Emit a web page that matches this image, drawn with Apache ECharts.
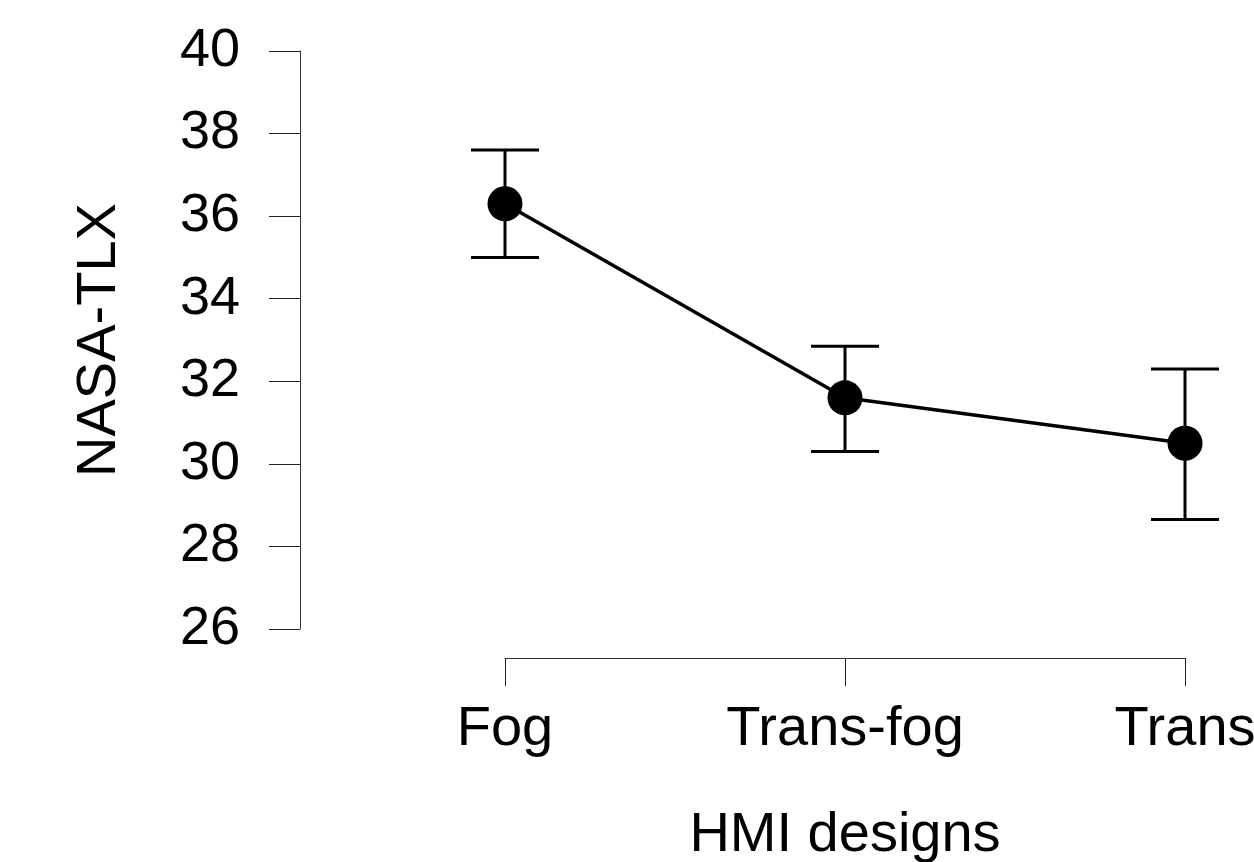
<!DOCTYPE html>
<html>
<head>
<meta charset="utf-8">
<title>NASA-TLX by HMI design</title>
<script src="https://cdn.jsdelivr.net/npm/echarts@6/dist/echarts.min.js"></script>
<style>
  html, body { margin: 0; padding: 0; background: #fff; overflow: hidden; }
  #chart { width: 1254px; height: 862px; display: block; }
</style>
</head>
<body>
<div id="chart"></div>
<script>
// values
const designs = ['Fog', 'Trans-fog', 'Trans'];
const meanTLX = [36.3, 31.6, 30.5];
const lowerTLX = [35.0, 30.3, 28.65];
const upperTLX = [37.6, 32.85, 32.3];

const font = '"Liberation Sans", Arial, sans-serif';

const chart = echarts.init(document.getElementById('chart'));

chart.setOption({
  backgroundColor: '#fff',
  animation: false,
  grid: { left: 505, right: 69, top: 51, bottom: 233, containLabel: false, outerBoundsMode: 'none' },
  xAxis: {
    type: 'category',
    data: designs,
    boundaryGap: false,
    offset: 29,
    name: 'HMI designs',
    nameLocation: 'middle',
    nameGap: 150,
    nameTextStyle: { color: '#000', fontSize: 56, fontFamily: font },
    axisLine: { lineStyle: { color: '#333', width: 1 } },
    axisTick: { length: 28, lineStyle: { color: '#222' } },
    axisLabel: { color: '#000', fontSize: 56, fontFamily: font, margin: 44, interval: 0 },
    splitLine: { show: false }
  },
  yAxis: {
    type: 'value',
    min: 26,
    max: 40,
    interval: 2,
    offset: 205,
    name: 'NASA-TLX',
    nameLocation: 'middle',
    nameGap: 172,
    nameTextStyle: { color: '#000', fontSize: 56, fontFamily: font },
    axisLine: { show: true, lineStyle: { color: '#333', width: 1 } },
    axisTick: { show: true, length: 31, lineStyle: { color: '#222' } },
    axisLabel: { color: '#000', fontSize: 54, fontFamily: font, margin: 60 },
    splitLine: { show: false }
  },
  series: [
    {
      // error bars
      type: 'custom',
      data: designs.map((d, i) => [i, lowerTLX[i], upperTLX[i]]),
      renderItem: function (params, api) {
        const lo = api.coord([api.value(0), api.value(1)]);
        const hi = api.coord([api.value(0), api.value(2)]);
        const half = 34;
        const style = { stroke: '#000', lineWidth: 3 };
        return {
          type: 'group',
          children: [
            { type: 'line', shape: { x1: hi[0], y1: hi[1], x2: lo[0], y2: lo[1] }, style: style },
            { type: 'line', shape: { x1: hi[0] - half, y1: hi[1], x2: hi[0] + half, y2: hi[1] }, style: style },
            { type: 'line', shape: { x1: lo[0] - half, y1: lo[1], x2: lo[0] + half, y2: lo[1] }, style: style }
          ]
        };
      },
      z: 1
    },
    {
      type: 'line',
      data: meanTLX,
      symbol: 'circle',
      symbolSize: 35,
      lineStyle: { color: '#000', width: 3.5 },
      itemStyle: { color: '#000' },
      z: 2
    }
  ]
});
</script>
</body>
</html>
